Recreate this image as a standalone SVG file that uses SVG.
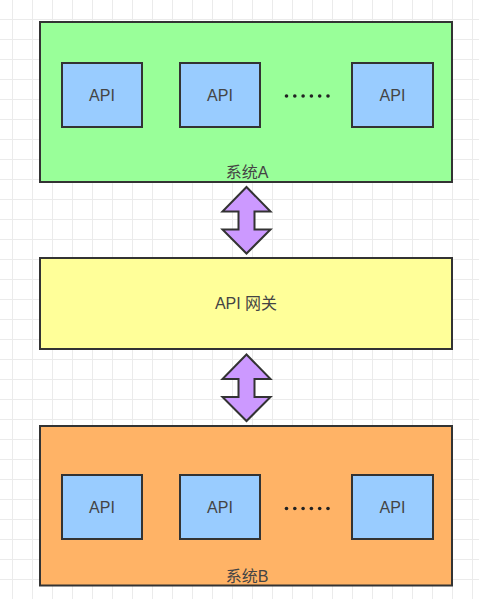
<svg xmlns="http://www.w3.org/2000/svg" width="479" height="599" viewBox="0 0 479 599">
  <defs>
    <pattern id="grid" x="12" y="19" width="20" height="20" patternUnits="userSpaceOnUse">
      <path d="M0.5,0 V20 M0,0.5 H20" fill="none" stroke="#ebebeb" stroke-width="1"/>
    </pattern>
  </defs>
  <style>
    .box { stroke: #333333; stroke-width: 2; }
    .sys-a { fill: #99ff99; }
    .sys-b { fill: #ffb366; }
    .gw { fill: #ffff99; }
    .api { fill: #99ccff; stroke: #333333; stroke-width: 2; }
    .arrow { fill: #cc99ff; stroke: #333333; stroke-width: 2; stroke-linejoin: miter; }
    .lbl { font-family: 'Liberation Sans', 'Noto Sans CJK SC', sans-serif; font-size: 16px; fill: #444444; text-anchor: middle; }
    .dot { fill: #222222; }
  </style>
  <rect x="0" y="0" width="479" height="599" fill="#ffffff"/>
  <rect x="0" y="0" width="479" height="599" fill="url(#grid)"/>

  <g id="system-a">
    <rect class="box sys-a" x="40" y="22" width="412" height="160"/>
    <text class="lbl" x="247" y="178">系统A</text>
  </g>
  <g id="system-a-api-1">
    <rect class="api" x="62" y="63" width="80" height="64"/>
    <text class="lbl" x="102" y="101">API</text>
  </g>
  <g id="system-a-api-2">
    <rect class="api" x="180" y="63" width="80" height="64"/>
    <text class="lbl" x="220" y="101">API</text>
  </g>
  <g id="system-a-dots">
    <circle class="dot" cx="286.5" cy="96" r="1.8"/>
    <circle class="dot" cx="294.8" cy="96" r="1.8"/>
    <circle class="dot" cx="303.1" cy="96" r="1.8"/>
    <circle class="dot" cx="311.4" cy="96" r="1.8"/>
    <circle class="dot" cx="319.7" cy="96" r="1.8"/>
    <circle class="dot" cx="328" cy="96" r="1.8"/>
  </g>
  <g id="system-a-api-3">
    <rect class="api" x="352" y="63" width="81" height="64"/>
    <text class="lbl" x="392.5" y="101">API</text>
  </g>

  <g id="gateway">
    <rect class="box gw" x="40" y="258" width="412" height="91"/>
    <text class="lbl" x="246" y="309">API 网关</text>
  </g>

  <g id="system-b">
    <rect class="box sys-b" x="40" y="426" width="412" height="159.5"/>
    <text class="lbl" x="247" y="582">系统B</text>
  </g>
  <g id="system-b-api-1">
    <rect class="api" x="62" y="475" width="80" height="64"/>
    <text class="lbl" x="102" y="513">API</text>
  </g>
  <g id="system-b-api-2">
    <rect class="api" x="180" y="475" width="80" height="64"/>
    <text class="lbl" x="220" y="513">API</text>
  </g>
  <g id="system-b-dots">
    <circle class="dot" cx="286.5" cy="508.5" r="1.8"/>
    <circle class="dot" cx="294.8" cy="508.5" r="1.8"/>
    <circle class="dot" cx="303.1" cy="508.5" r="1.8"/>
    <circle class="dot" cx="311.4" cy="508.5" r="1.8"/>
    <circle class="dot" cx="319.7" cy="508.5" r="1.8"/>
    <circle class="dot" cx="328" cy="508.5" r="1.8"/>
  </g>
  <g id="system-b-api-3">
    <rect class="api" x="352" y="475" width="81" height="64"/>
    <text class="lbl" x="392.5" y="513">API</text>
  </g>

  <g id="connectors">
    <path class="arrow" d="M246.5,187 L270.5,211.5 L254.5,211.5 L254.5,229.5 L270.5,229.5 L246.5,253.5 L222.5,229.5 L238.5,229.5 L238.5,211.5 L222.5,211.5 Z"/>
    <path class="arrow" d="M246.5,354.5 L270.5,379 L254.5,379 L254.5,397 L270.5,397 L246.5,421 L222.5,397 L238.5,397 L238.5,379 L222.5,379 Z"/>
  </g>
</svg>
